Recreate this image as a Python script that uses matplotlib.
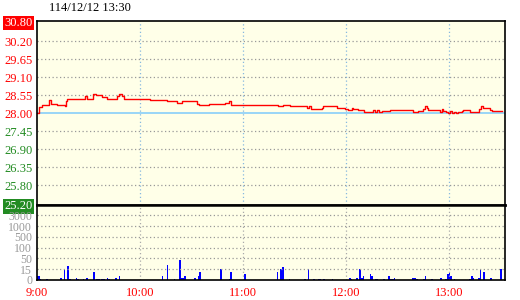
import numpy as np
import matplotlib
matplotlib.use('Agg')
import matplotlib.pyplot as plt

plt.rcParams['font.family'] = ['Liberation Serif', 'DejaVu Serif']

title = '114/12/12 13:30'
ref_price = 28.00
price_ticks = [30.80, 30.20, 29.65, 29.10, 28.55, 28.00, 27.45, 26.90, 26.35, 25.80, 25.20]

# minutes after 9:00, price (step after)
price_t = [0, 1, 2.7, 6.8, 8.0, 11.5, 16.3, 16.9, 17.6, 28.0, 29.0, 32.8, 34.3, 37.6,
           40.6, 46.4, 47.9, 49.3, 50.6, 65.8, 75.7, 81.3, 84.2, 93.0, 94.5, 100.3,
           109.4, 111.9, 112.9, 140.4, 141.4, 143.0, 147.2, 157.0, 158.0, 159.5, 165.7,
           166.6, 174.4, 179.3, 180.9, 183.2, 184.1, 187.0, 190.0, 195.7, 196.7, 197.7,
           199.0, 200.6, 205.4, 219.0, 221.6, 224.8, 225.8, 226.8, 227.7, 234.5, 235.5,
           236.4, 237.8, 239.4, 240.4, 241.4, 242.9, 243.7, 245.2, 247.2, 248.1, 252.0,
           257.2, 258.4, 259.4, 263.6, 264.6, 270.4]
price_v = [28.00, 28.18, 28.26, 28.41, 28.29, 28.26, 28.22, 28.37, 28.44, 28.51, 28.44, 28.58, 28.54, 28.49,
           28.44, 28.51, 28.59, 28.51, 28.44, 28.41, 28.37, 28.31, 28.36, 28.29, 28.26, 28.29,
           28.32, 28.36, 28.26, 28.22, 28.20, 28.26, 28.20, 28.14, 28.20, 28.12, 28.16,
           28.20, 28.16, 28.12, 28.10, 28.14, 28.12, 28.09, 28.04, 28.09, 28.02, 28.09,
           28.04, 28.06, 28.09, 28.04, 28.07, 28.12, 28.20, 28.14, 28.09, 28.04, 28.11,
           28.06, 28.04, 28.00, 28.06, 28.00, 28.04, 28.00, 28.04, 28.07, 28.09, 28.04,
           28.11, 28.20, 28.16, 28.09, 28.07, 28.07]

vol_t = [0, 1, 2, 6, 14, 16, 18, 19, 23, 24, 27, 29, 33, 35, 36, 38, 39, 41, 42, 46, 48,
         73, 76, 80, 83, 84, 85, 86, 92, 94, 95, 107, 112, 113, 121, 140, 142, 143, 147,
         156, 158, 161, 164, 165, 167, 172, 182, 183, 186, 188, 189, 190, 194, 195, 197,
         198, 202, 205, 206, 207, 208, 219, 220, 221, 225, 226, 230, 235, 238, 239, 240,
         241, 243, 252, 253, 254, 257, 258, 260, 264, 270]
vol_v = [6, 6, 2, 2, 3, 17, 27, 2, 3, 2, 2, 3, 11, 2, 2, 2, 2, 3, 2, 3, 5,
         6, 29, 2, 45, 3, 3, 5, 3, 5, 11, 17, 2, 11, 9, 11, 16, 22, 2,
         2, 17, 2, 2, 2, 2, 2, 3, 2, 3, 17, 3, 5, 8, 5, 2,
         2, 2, 6, 2, 2, 3, 3, 3, 2, 2, 5, 2, 3, 2, 8, 11,
         5, 2, 2, 5, 3, 3, 17, 11, 3, 16]

vol_levels = [0, 15, 50, 100, 500, 1000, 3000, 6000]
vol_ticks = [0, 15, 50, 100, 500, 1000, 3000]
time_ticks = [0, 60, 120, 180, 240]
time_labels = ['9:00', '10:00', '11:00', '12:00', '13:00']

bg = '#FFFFE8'
idx = np.arange(len(vol_levels))


def vfwd(v):
    return np.interp(v, vol_levels, idx)


def vinv(i):
    return np.interp(i, idx, vol_levels)


fig = plt.figure(figsize=(5.2, 3.0), dpi=100)
ax = fig.add_axes([0.0712, 0.3177, 0.9005, 0.6110])
axv = fig.add_axes([0.0712, 0.0667, 0.9005, 0.2510], sharex=ax)

for a in (ax, axv):
    a.set_facecolor(bg)
    a.set_xlim(0, 272.5)
    a.tick_params(length=0)
    for s in a.spines.values():
        s.set_color('black')
        s.set_linewidth(1.2)

# price pane
ax.set_ylim(25.20, 30.80)
ax.set_yticks(price_ticks)
ax.set_yticklabels(['%.2f' % v for v in price_ticks], fontsize=9)
for lab, v in zip(ax.get_yticklabels(), price_ticks):
    lab.set_color('red' if v >= ref_price else '#228B22')
ax.get_yticklabels()[0].set_color('white')
ax.get_yticklabels()[0].set_bbox(dict(facecolor='red', edgecolor='none', pad=1))
ax.get_yticklabels()[-1].set_color('white')
ax.get_yticklabels()[-1].set_bbox(dict(facecolor='#228B22', edgecolor='none', pad=1))
ax.tick_params(axis='y', pad=3)
for v in price_ticks[1:-1]:
    if v != ref_price:
        ax.axhline(v, color='#999999', lw=0.9, ls=(0, (1, 2)))
ax.axhline(ref_price, color='#87CEFA', lw=1.2)
for t in time_ticks[1:]:
    ax.axvline(t, color='#87B8E0', lw=0.9, ls=(0, (1, 2)))
ax.step(price_t, price_v, where='post', color='red', lw=1.0)
plt.setp(ax.get_xticklabels(), visible=False)
ax.spines['bottom'].set_linewidth(1.8)

# volume pane
axv.set_yscale('function', functions=(vfwd, vinv))
axv.set_ylim(0, 6000)
axv.set_yticks(vol_ticks)
axv.set_yticklabels([str(v) for v in vol_ticks], fontsize=8.5, color='#999999')
axv.yaxis.set_minor_locator(matplotlib.ticker.NullLocator())
for v in vol_ticks[1:]:
    axv.axhline(v, color='#999999', lw=0.9, ls=(0, (1, 2)))
for t in time_ticks[1:]:
    axv.axvline(t, color='#AAAAAA', lw=0.9, ls=(0, (1, 2)))
axv.bar(vol_t, vol_v, width=1.0, color='#0000FF', linewidth=0, align='center')
axv.set_xticks(time_ticks)
axv.set_xticklabels(time_labels, fontsize=9, color='red')
axv.tick_params(axis='x', pad=5)
axv.spines['top'].set_linewidth(1.8)

fig.text(0.094, 0.972, title, fontsize=9, color='black', va='center', ha='left')

fig.savefig('out.png', dpi=100)
